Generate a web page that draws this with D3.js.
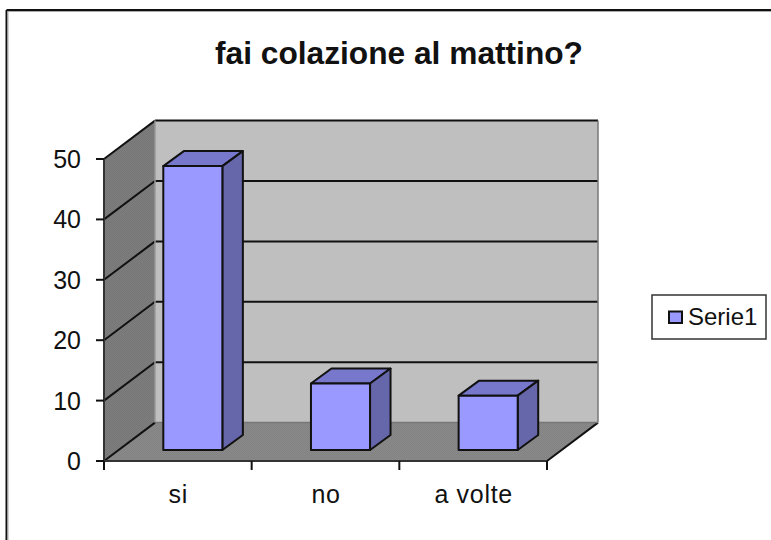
<!DOCTYPE html>
<html><head><meta charset="utf-8">
<style>html,body{margin:0;padding:0;background:#fff}svg{display:block}text{font-family:"Liberation Sans",Arial,sans-serif;fill:#111}</style>
<script src="https://cdn.jsdelivr.net/npm/d3@7/dist/d3.min.js"></script>
</head><body><svg id="c" width="771" height="540"></svg>
<script>
const chartTitle = "fai colazione al mattino?";
const categories = ["si", "no", "a volte"];
const seriesName = "Serie1";
const seriesValues = [47, 11, 9];
const yTicks = [0, 10, 20, 30, 40, 50];

const svg = d3.select("#c");
const defs = svg.append("defs");
const dither = (id, base, alt) => {
  const p = defs.append("pattern").attr("id", id).attr("patternUnits", "userSpaceOnUse").attr("width", 2).attr("height", 2);
  p.append("rect").attr("width", 2).attr("height", 2).attr("fill", base);
  p.append("rect").attr("width", 1).attr("height", 1).attr("fill", alt);
  p.append("rect").attr("x", 1).attr("y", 1).attr("width", 1).attr("height", 1).attr("fill", alt);
};
dither("wallBack", "#c1c1c1", "#bdbdbd");
dither("wallSide", "#7e7e7e", "#767676");
dither("floor", "#8a8a8a", "#828282");

const x = d3.scaleBand().domain(categories).range([104, 547]).paddingInner(0.6).paddingOuter(0.3);
const y = d3.scaleLinear().domain([0, 50]).range([461, 159]);
const wall = {dx: 51, dy: -38.4};
const barOff = {dx: 15, dy: -11};
const barDepth = {dx: 20.5, dy: -15};
const ink = "#111";
const poly = (pts, fill, sw = 0, st = ink) => svg.append("polygon")
  .attr("points", pts.map(p => p.join(",")).join(" "))
  .attr("fill", fill).attr("stroke", sw ? st : "none").attr("stroke-width", sw).attr("stroke-linejoin", "round");
const line = (a, b, sw = 2, st = ink) => svg.append("line")
  .attr("x1", a[0]).attr("y1", a[1]).attr("x2", b[0]).attr("y2", b[1]).attr("stroke", st).attr("stroke-width", sw);

// chart frame: dark line with a soft grey inner edge, open to the right and bottom
line([6.5, 10], [771, 10], 2, "#111");
line([6.5, 10], [6.5, 540], 2, "#111");
line([8, 11.5], [771, 11.5], 1, "#aaa");
line([8, 11.5], [8, 540], 1, "#aaa");

svg.append("text").text(chartTitle).attr("x", 399).attr("y", 64).attr("text-anchor", "middle")
  .attr("font-size", 31.7).attr("font-weight", "bold");

const x0 = x.range()[0], x1 = x.range()[1];
const bk = v => y(v) + wall.dy;
poly([[x0 + wall.dx, bk(50)], [x1 + wall.dx, bk(50)], [x1 + wall.dx, bk(0)], [x0 + wall.dx, bk(0)]], "url(#wallBack)");
poly([[x0, y(50)], [x0 + wall.dx, bk(50)], [x0 + wall.dx, bk(0)], [x0, y(0)]], "url(#wallSide)");
poly([[x0, y(0)], [x0 + wall.dx, bk(0)], [x1 + wall.dx, bk(0)], [x1, y(0)]], "url(#floor)");

yTicks.slice(1).forEach(t => {
  line([x0, y(t)], [x0 + wall.dx, bk(t)]);
  line([x0 + wall.dx, bk(t)], [x1 + wall.dx, bk(t)]);
});
line([x0, y(0)], [x0 + wall.dx, bk(0)]);
line([x1, y(0)], [x1 + wall.dx, bk(0)]);
line([x1 + wall.dx, bk(50)], [x1 + wall.dx, bk(0)], 1.5, "#777");
line([x0 + wall.dx, bk(50)], [x0 + wall.dx, bk(0)], 1.5, "#999");
line([x0 + wall.dx, bk(0)], [x1 + wall.dx, bk(0)], 1.5, "#777");

categories.forEach((c, i) => {
  const l = x(c) + barOff.dx, r = l + x.bandwidth();
  const top = y(seriesValues[i]) + barOff.dy, bot = y(0) + barOff.dy;
  const d = barDepth;
  poly([[l, top], [r, top], [r + d.dx, top + d.dy], [l + d.dx, top + d.dy]], "#7777cc", 2);
  poly([[r, top], [r + d.dx, top + d.dy], [r + d.dx, bot + d.dy], [r, bot]], "#6666aa", 2);
  poly([[l, top], [r, top], [r, bot], [l, bot]], "#9999ff", 2);
});

// front axes
line([x0, y(50) - 0.5], [x0, y(0) + 1], 2, "#333");
line([x0, y(0)], [x1, y(0)], 2, "#333");
yTicks.forEach(t => {
  line([x0 - 8, y(t)], [x0, y(t)]);
  svg.append("text").text(t).attr("x", 81).attr("y", y(t) + 9).attr("text-anchor", "end").attr("font-size", 25);
});
const tickXs = d3.range(categories.length + 1).map(i => x0 + i * x.step());
tickXs.forEach(tx => line([tx, y(0)], [tx, y(0) + 9]));
categories.forEach(c => {
  svg.append("text").text(c).attr("x", x(c) + x.bandwidth() / 2 + 0.5).attr("y", 503)
    .attr("text-anchor", "middle").attr("font-size", 25).attr("letter-spacing", 0.7);
});

// legend
svg.append("rect").attr("x", 652).attr("y", 295).attr("width", 114).attr("height", 44)
  .attr("fill", "#fff").attr("stroke", "#333").attr("stroke-width", 1.5);
svg.append("rect").attr("x", 669).attr("y", 311.5).attr("width", 13).attr("height", 11.5)
  .attr("fill", "#9999ff").attr("stroke", ink).attr("stroke-width", 2);
svg.append("text").text(seriesName).attr("x", 688).attr("y", 325).attr("font-size", 24);
</script></body></html>
